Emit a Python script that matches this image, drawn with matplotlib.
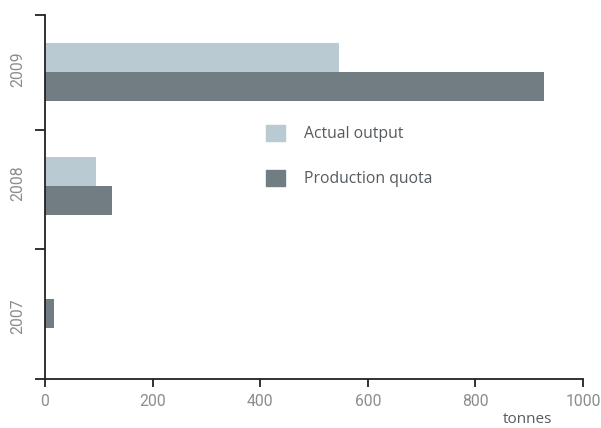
import matplotlib.pyplot as plt
from matplotlib.patches import Patch

# data
years = ['2007', '2008', '2009']
actual_output = [0, 94, 546]
production_quota = [16, 124, 927]

light = '#b9cad2'
dark = '#727d83'
tick_font = ['Roboto', 'DejaVu Sans']

fig = plt.figure(figsize=(6.01, 4.28), dpi=100)
ax = fig.add_axes([45 / 601, 49 / 428, 538 / 601, 364 / 428])

pos = list(range(len(years)))
h = 0.255
ax.barh([p + h / 2 for p in pos], actual_output, height=h, color=light)
ax.barh([p - h / 2 for p in pos], production_quota, height=h, color=dark)

ax.set_xlim(0, 1000)
ax.set_ylim(-0.7, 2.5)

# axis styling
for s in ['top', 'right']:
    ax.spines[s].set_visible(False)
for s in ['left', 'bottom']:
    ax.spines[s].set_color('#222222')
    ax.spines[s].set_linewidth(1.3)

ax.set_xticks(range(0, 1001, 200))
ax.tick_params(axis='x', length=6, width=1.3, color='#222222', pad=5,
               labelsize=11.3, labelcolor='#8c8c8c')
for lbl in ax.get_xticklabels():
    lbl.set_family(tick_font)

# boundaries as major ticks, year labels as minor ticks
ax.set_yticks([-0.7, 0.44, 1.49, 2.5])
ax.set_yticklabels([])
ax.tick_params(axis='y', which='major', length=7, width=1.3, color='#222222')
ax.set_yticks([-0.15, 1.02, 2.02], minor=True)
ax.set_yticklabels(years, minor=True, rotation=90, va='center',
                   fontsize=11.3, color='#8c8c8c', family=tick_font)
ax.tick_params(axis='y', which='minor', length=0, pad=14)

# legend
handles = [Patch(color=light, label='Actual output'),
           Patch(color=dark, label='Production quota')]
ax.legend(handles=handles, loc='upper left', frameon=False,
          bbox_to_anchor=(266 / 601, 1 - 125 / 428), bbox_transform=fig.transFigure,
          borderpad=0, borderaxespad=0, handlelength=1.2, handleheight=1.2,
          handletextpad=1.2, labelspacing=1.75,
          prop={'family': 'Open Sans', 'size': 11.3}, labelcolor='#555b5f')

fig.text(527 / 601, 1 - 423 / 428, 'tonnes', ha='center', va='baseline',
         fontsize=11, color='#555b5f', family='Open Sans')

fig.savefig('out.png', dpi=100)
